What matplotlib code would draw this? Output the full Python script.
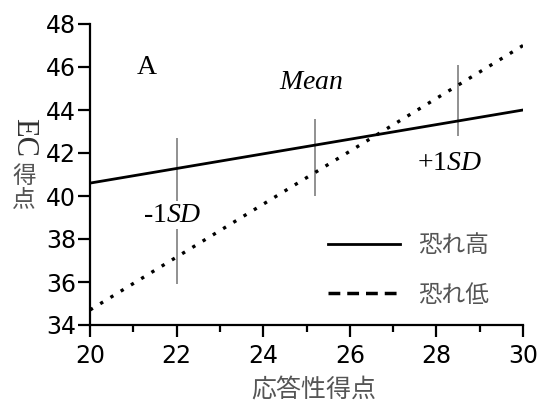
import numpy as np
import matplotlib.pyplot as plt
from matplotlib.lines import Line2D

plt.rcParams['mathtext.fontset'] = 'custom'
plt.rcParams['mathtext.rm'] = 'Liberation Serif'
plt.rcParams['mathtext.it'] = 'Liberation Serif:italic'

# regression lines (応答性得点 -> EC得点)
x_ends = [20, 30]
fear_high = [40.6, 44.0]
fear_low = [34.7, 47.0]

# -1SD / Mean / +1SD markers
sd_x = [22, 25.2, 28.5]
sd_lo = [35.9, 40.0, 42.8]
sd_hi = [42.7, 43.6, 46.1]
sd_labels = ['-1$\\mathit{SD}$', '$\\mathit{Mean}$', '+1$\\mathit{SD}$']
sd_label_pos = [(21.9, 39.1), (25.1, 45.3), (28.3, 41.5)]

legend_labels = ['恐れ高', '恐れ低']

W, H = 540, 403
fig = plt.figure(figsize=(W / 100, H / 100), dpi=100)
ax = fig.add_axes([90 / W, 1 - 325 / H, 433 / W, 301 / H])

ax.vlines(sd_x, sd_lo, sd_hi, color='#888888', lw=1.3, zorder=1)
ax.plot(x_ends, fear_high, color='black', lw=2, zorder=2)
ax.plot(x_ends, fear_low, color='black', lw=2.4, linestyle=(0, (1, 2.6)), zorder=2)

for lab, (tx, ty) in zip(sd_labels, sd_label_pos):
    ax.text(tx, ty, lab, fontsize=20, family='Liberation Serif', ha='center', va='center',
            bbox=dict(facecolor='white', edgecolor='none', pad=1), zorder=3)

ax.text(21.3, 46.0, 'A', fontsize=20, family='Liberation Serif', ha='center', va='center')

ax.set_xlim(20, 30)
ax.set_ylim(34, 48)
ax.set_xticks(np.arange(20, 31, 2))
ax.set_xticks(np.arange(21, 30, 2), minor=True)
ax.set_yticks(np.arange(34, 49, 2))

for s in ['top', 'right']:
    ax.spines[s].set_visible(False)
for s in ['left', 'bottom']:
    ax.spines[s].set_linewidth(1.6)

ax.tick_params(axis='both', which='major', direction='out', length=8.5, width=1.6,
               labelsize=17)
ax.tick_params(axis='y', which='major', pad=1.5)
ax.tick_params(axis='x', which='major', pad=5)
ax.tick_params(axis='x', which='minor', direction='out', length=5, width=1.6)
for t in ax.get_xticklabels() + ax.get_yticklabels():
    t.set_family('DejaVu Sans')

# axis labels
fig.text(314 / W, 1 - 391 / H, '応答性得点', fontsize=18, color='#555555',
         family='Noto Sans CJK JP', ha='center', va='center')
fig.text(24 / W, 1 - 137 / H, 'EC', fontsize=22, color='#333333', rotation=-90,
         family='Liberation Serif', ha='center', va='center')
fig.text(24 / W, 1 - 188 / H, '得\n点', fontsize=17, color='#555555', linespacing=1.05,
         family='Noto Sans CJK JP', ha='center', va='center')

handles = [Line2D([], [], color='black', lw=2),
           Line2D([], [], color='black', lw=2.5, linestyle=(0, (3.4, 2)))]
leg = ax.legend(handles, legend_labels, loc='upper left', bbox_to_anchor=(0.55, 0.302),
                frameon=False, handlelength=3.05, handletextpad=0.76, labelspacing=1.12,
                borderpad=0, borderaxespad=0,
                prop={'family': 'Noto Sans CJK JP', 'size': 17})
for t in leg.get_texts():
    t.set_color('#555555')

fig.savefig('out.png', dpi=100)
